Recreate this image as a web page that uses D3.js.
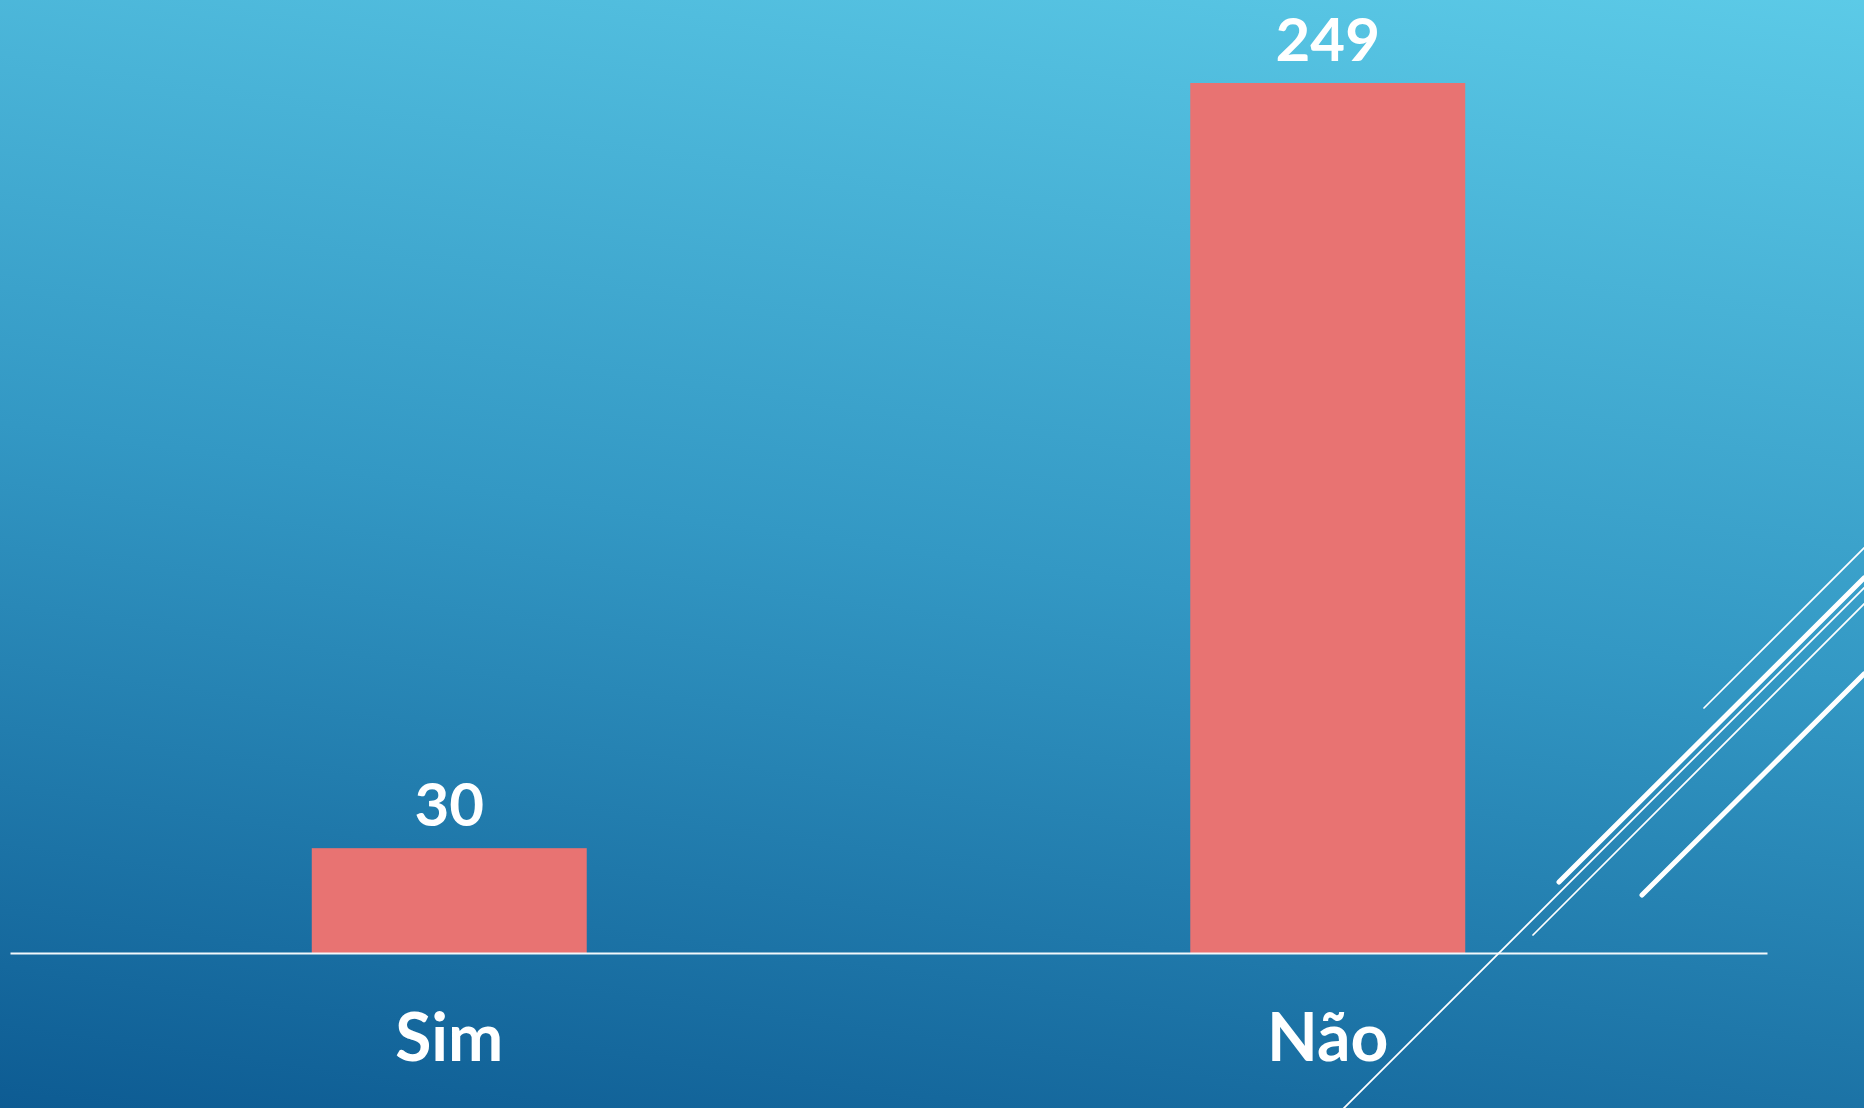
<!DOCTYPE html>
<html>
<head>
<meta charset="utf-8">
<script src="https://cdn.jsdelivr.net/npm/d3@7"></script>
<style>
  html, body { margin: 0; padding: 0; overflow: hidden; }
  svg { display: block; }
</style>
</head>
<body>
<svg width="1864" height="1108"></svg>
<script>
const categories = ['Sim', 'Não']
const values = [30, 249]

const width = 1864
const height = 1108

const svg = d3.select('svg')

// background gradient (dark blue bottom-left -> light cyan top-right)
const defs = svg.append('defs')
const grad = defs.append('linearGradient')
    .attr('id', 'bg')
    .attr('gradientUnits', 'userSpaceOnUse')
    .attr('x1', 832).attr('y1', 1264)
    .attr('x2', 1032).attr('y2', -156)
grad.append('stop').attr('offset', 0).attr('stop-color', '#0b5890')
grad.append('stop').attr('offset', 0.5).attr('stop-color', '#3398c4')
grad.append('stop').attr('offset', 1).attr('stop-color', '#5ecde9')

svg.append('rect')
    .attr('width', width)
    .attr('height', height)
    .attr('fill', 'url(#bg)')

const x = d3.scaleBand()
    .domain(categories)
    .range([10, 1767])
    .paddingInner(0.687)
    .paddingOuter(0.3435)

const y = d3.scaleLinear()
    .domain([0, 249])
    .range([953, 83])

const g = svg.append('g')

g.selectAll('rect.bar').data(values)
  .enter().append('rect')
    .attr('class', 'bar')
    .attr('x', (d, i) => x(categories[i]))
    .attr('y', d => y(d))
    .attr('width', x.bandwidth())
    .attr('height', d => y(0) - y(d))
    .attr('fill', '#e87372')

// value labels
g.selectAll('text.val').data(values)
  .enter().append('text')
    .attr('class', 'val')
    .attr('x', (d, i) => x(categories[i]) + x.bandwidth() / 2)
    .attr('y', d => y(d) - 22)
    .attr('text-anchor', 'middle')
    .attr('fill', 'white')
    .attr('font-family', 'Lato, sans-serif')
    .attr('font-weight', 700)
    .attr('font-size', 60)
    .text(d => d)

// baseline
const xAxis = d3.axisBottom(x).tickSize(0).tickPadding(0)
const axisG = svg.append('g')
    .attr('transform', `translate(0,${y(0)})`)
    .call(xAxis)
axisG.select('.domain')
    .attr('stroke', '#f2f8fb')
    .attr('stroke-width', 2)
axisG.selectAll('.tick text')
    .attr('y', 108)
    .attr('dy', 0)
    .attr('fill', 'white')
    .attr('font-family', 'Lato, sans-serif')
    .attr('font-weight', 700)
    .attr('font-size', 66)

// theme decoration lines at the right edge
const decoLines = [
    { x1: 1704, y1: 708, x2: 1866, y2: 546, w: 1.75 },
    { x1: 1559, y1: 882, x2: 1864, y2: 578, w: 5 },
    { x1: 1343, y1: 1109, x2: 1866, y2: 586, w: 1.75 },
    { x1: 1533, y1: 935, x2: 1866, y2: 602, w: 1.75 },
    { x1: 1642, y1: 895, x2: 1864, y2: 674, w: 5 }
]
svg.append('g').selectAll('line').data(decoLines)
  .enter().append('line')
    .attr('x1', d => d.x1).attr('y1', d => d.y1)
    .attr('x2', d => d.x2).attr('y2', d => d.y2)
    .attr('stroke', 'white')
    .attr('stroke-width', d => d.w)
    .attr('stroke-linecap', 'round')
</script>
</body>
</html>
